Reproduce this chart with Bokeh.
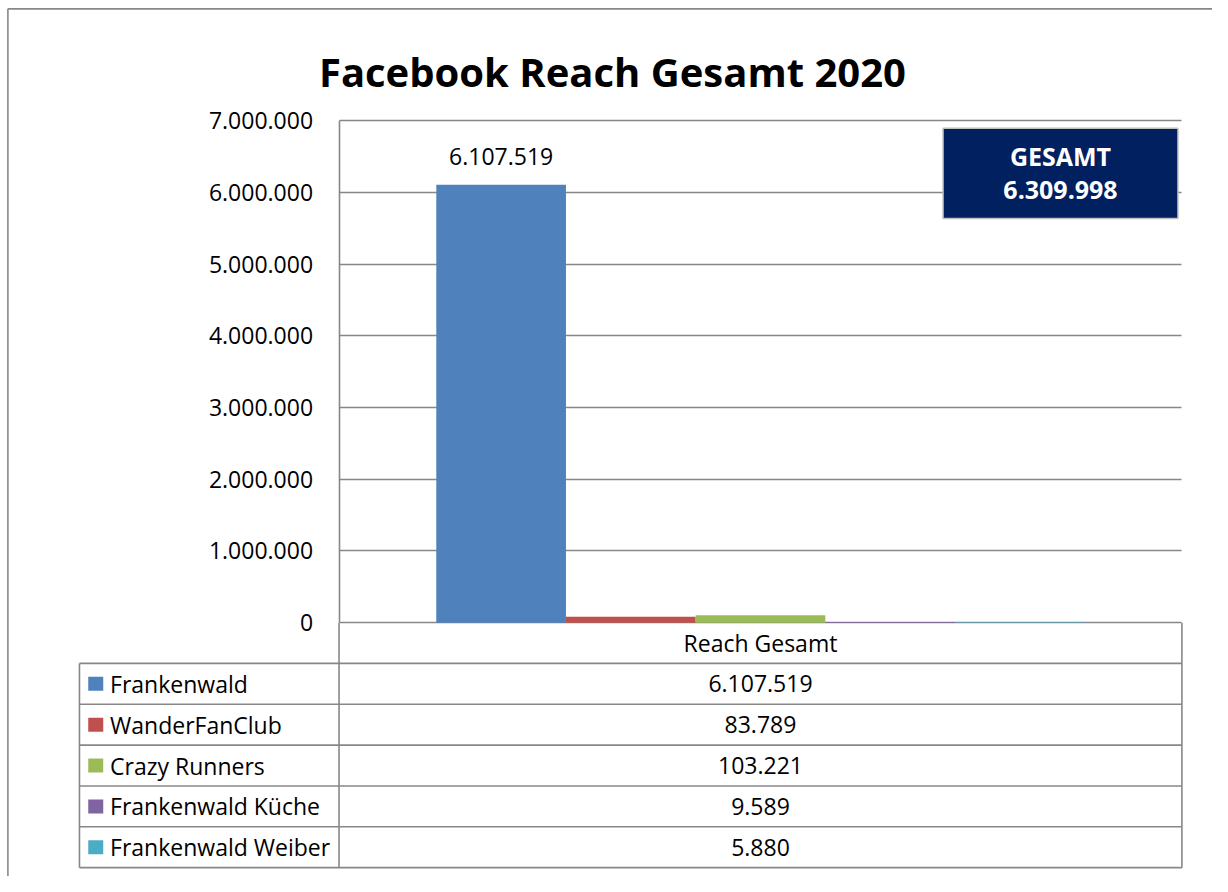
from bokeh.plotting import figure
from bokeh.models import (Range1d, LinearAxis, FixedTicker, Grid, ColumnDataSource)
from bokeh.core.properties import value
from bokeh.embed import file_html
from bokeh.resources import INLINE

# ---------------- data ----------------
title_text = "Facebook Reach Gesamt 2020"
category = "Reach Gesamt"
series = ["Frankenwald", "WanderFanClub", "Crazy Runners", "Frankenwald Küche", "Frankenwald Weiber"]
values = [6107519, 83789, 103221, 9589, 5880]
colors = ["#4F81BD", "#C0504D", "#9BBB59", "#8064A2", "#4BACC6"]
y_ticks = [0, 1000000, 2000000, 3000000, 4000000, 5000000, 6000000, 7000000]
y_tick_labels = ["0", "1.000.000", "2.000.000", "3.000.000", "4.000.000",
                 "5.000.000", "6.000.000", "7.000.000"]
total_label = "GESAMT"


def de(v):
    return f"{v:,}".replace(",", ".")


total = sum(values)

# ---------------- layout helpers (reference pixel -> data) ----------------
W, H = 1212, 876
REF_W, REF_H = 1228, 892      # page extent the canvas represents
CAT_L, CAT_R = 343, 1197      # plot area (category) extent in page px
Y0, PX_PER_M = 633.5, 73.0    # zero line and pixels per million


def px(xp):
    return (xp - CAT_L) / (CAT_R - CAT_L)


def py(yp):
    return (Y0 - yp) / PX_PER_M * 1e6


FONT = value("Open Sans")
GRID = "#878787"

p = figure(width=W, height=H, output_backend="svg", toolbar_location=None,
           x_axis_type=None, y_axis_type=None,
           x_range=Range1d(px(0), px(REF_W)), y_range=Range1d(py(REF_H), py(0)),
           min_border=0, outline_line_color=None)
p.xgrid.visible = False
p.ygrid.visible = False

ticker = FixedTicker(ticks=y_ticks)

# horizontal gridlines over the category width only
grid = Grid(dimension=1, ticker=ticker, cross_bounds=(0, 1),
            grid_line_color=GRID, grid_line_width=1.6)
p.add_layout(grid)

# y axis at the left edge of the category
yaxis = LinearAxis(fixed_location=0, ticker=ticker, bounds=(0, max(y_ticks)),
                   major_label_overrides={t: l for t, l in zip(y_ticks, y_tick_labels)},
                   axis_line_color=GRID, axis_line_width=1.6,
                   major_tick_in=0, major_tick_out=0, minor_tick_line_color=None,
                   major_label_standoff=26, major_label_text_font="Open Sans",
                   major_label_text_font_size="23px", major_label_text_color="#000000")
p.add_layout(yaxis, "left")

# ---------------- bars ----------------
n = len(series)
gap = 1.5
bar_w = 1 / (n + gap)
centers = [0.5 + (i - (n - 1) / 2) * bar_w for i in range(n)]
src = ColumnDataSource(dict(x=centers, top=values, color=colors, name=series))
p.vbar(x="x", top="top", bottom=0, width=bar_w, fill_color="color",
       line_color=None, source=src)

# data label for the first series
p.text(x=[centers[0]], y=[values[0]], text=[de(values[0])], text_font=FONT,
       text_font_size="23px", text_align="center", text_baseline="middle",
       y_offset=-28, text_color="#000000")

# ---------------- title ----------------
p.text(x=[px(620)], y=[py(72)], text=[title_text], text_font=FONT,
       text_font_size="40px", text_font_style="bold", text_align="center",
       text_baseline="middle", text_color="#000000")

# ---------------- total box ----------------
p.quad(left=[px(955)], right=[px(1193)], top=[py(130)], bottom=[py(222)],
       fill_color="#002060", line_color="#BFBFBF", line_width=1.5)
p.text(x=[px(1074)] * 2, y=[py(158), py(193)], text=[total_label, de(total)],
       text_font=FONT, text_font_size="25px", text_font_style="bold",
       text_align="center", text_baseline="middle", text_color="#FFFFFF")

# ---------------- data table ----------------
TAB_L = 80
HEAD_B = 675
ROW_H = 41.6
rows_top = [HEAD_B + i * ROW_H for i in range(n)]
rows_mid = [t + ROW_H / 2 for t in rows_top]
TAB_B = HEAD_B + n * ROW_H

# horizontal lines
hy = [HEAD_B + i * ROW_H for i in range(n + 1)]
p.segment(x0=[px(TAB_L)] * len(hy), x1=[1] * len(hy), y0=[py(v) for v in hy],
          y1=[py(v) for v in hy], line_color=GRID, line_width=1.6)
# vertical lines
p.segment(x0=[px(TAB_L), 0, 1], x1=[px(TAB_L), 0, 1],
          y0=[py(HEAD_B), 0, 0], y1=[py(TAB_B)] * 3, line_color=GRID, line_width=1.6)

# header
p.text(x=[0.5], y=[py((Y0 + HEAD_B) / 2)], text=[category], text_font=FONT,
       text_font_size="23px", text_align="center", text_baseline="middle",
       text_color="#000000")
# legend keys and names
p.rect(x=[px(96.5)] * n, y=[py(m) for m in rows_mid], width=15, height=14,
       width_units="screen", height_units="screen", fill_color=colors, line_color=None)
p.text(x=[px(111)] * n, y=[py(m) for m in rows_mid], text=series, text_font=FONT,
       text_font_size="23px", text_align="left", text_baseline="middle",
       text_color="#000000")
# values
p.text(x=[0.5] * n, y=[py(m) for m in rows_mid], text=[de(v) for v in values],
       text_font=FONT, text_font_size="23px", text_align="center",
       text_baseline="middle", text_color="#000000")

# outer chart border (left and top edges)
BL, BT = 7.5, 8.5
p.segment(x0=[px(BL), px(BL)], x1=[px(BL), px(REF_W)],
          y0=[py(BT), py(BT)], y1=[py(REF_H), py(BT)],
          line_color=GRID, line_width=1.6)

open("out.html", "w").write(file_html(p, INLINE))
